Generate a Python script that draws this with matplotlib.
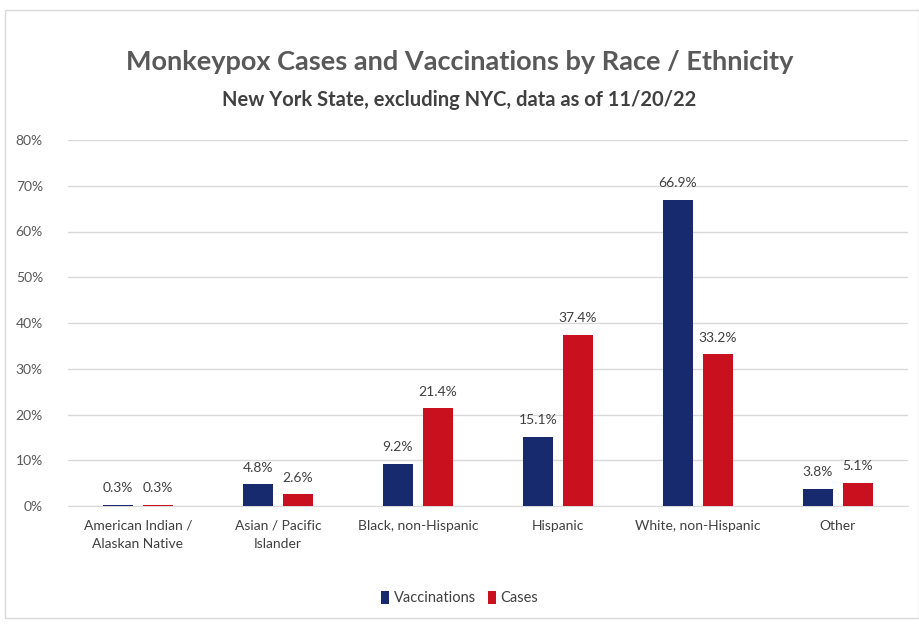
import matplotlib.pyplot as plt
import numpy as np
from matplotlib.patches import Rectangle

categories = ["American Indian /\nAlaskan Native", "Asian / Pacific\nIslander",
              "Black, non-Hispanic", "Hispanic", "White, non-Hispanic", "Other"]
vaccinations = [0.3, 4.8, 9.2, 15.1, 66.9, 3.8]
cases = [0.3, 2.6, 21.4, 37.4, 33.2, 5.1]
y_ticks = [0, 10, 20, 30, 40, 50, 60, 70, 80]

NAVY = "#172A6E"
RED = "#C8101E"
GREY = "#595959"

plt.rcParams['font.family'] = ['Lato', 'DejaVu Sans']

fig = plt.figure(figsize=(9.19, 6.28), dpi=100)
ax = fig.add_axes([68 / 919, 1 - 506 / 628, 840 / 919, 366 / 628])

x = np.arange(len(categories))
w = 0.215
off = 0.143
b1 = ax.bar(x - off, vaccinations, w, color=NAVY, label="Vaccinations", zorder=3)
b2 = ax.bar(x + off, cases, w, color=RED, label="Cases", zorder=3)

for bars, vals in ((b1, vaccinations), (b2, cases)):
    for b, v in zip(bars, vals):
        ax.text(b.get_x() + b.get_width() / 2, v + 2.3, f"{v:.1f}%",
                ha='center', va='bottom', fontsize=10, color="#404040")

ax.set_xlim(-0.5, len(categories) - 0.5)
ax.set_ylim(0, 80)
ax.set_yticks(y_ticks)
ax.set_yticklabels([f"{t}%" for t in y_ticks], fontsize=10, color=GREY)
ax.set_xticks(x)
ax.set_xticklabels(categories, fontsize=10, color="#404040", linespacing=1.6)
ax.tick_params(length=0, pad=10)
ax.tick_params(axis='y', pad=18)
ax.grid(axis='y', color="#D9D9D9", linewidth=1, zorder=0)
for s in ("top", "right", "left"):
    ax.spines[s].set_visible(False)
ax.spines["bottom"].set_color("#D9D9D9")

fig.text(0.5, 1 - 62 / 628, "Monkeypox Cases and Vaccinations by Race / Ethnicity",
         ha='center', va='center', fontsize=19.5, color=GREY, fontweight='bold')
fig.text(0.5, 1 - 100 / 628, "New York State, excluding NYC, data as of 11/20/22",
         ha='center', va='center', fontsize=14.5, color="#404040", fontweight='bold')

fig.legend(handles=[b1, b2], loc='center', bbox_to_anchor=(0.5, 1 - 598 / 628),
           ncol=2, frameon=False, fontsize=10.5, handlelength=0.6,
           handleheight=1.0, handletextpad=0.3, columnspacing=0.8,
           labelcolor="#404040")

fig.patches.append(Rectangle((5 / 919, 10 / 628), 1 - 5 / 919, 1 - 20 / 628,
                             transform=fig.transFigure, fill=False,
                             edgecolor="#D9D9D9", linewidth=1))

fig.savefig("out.png", dpi=100)
